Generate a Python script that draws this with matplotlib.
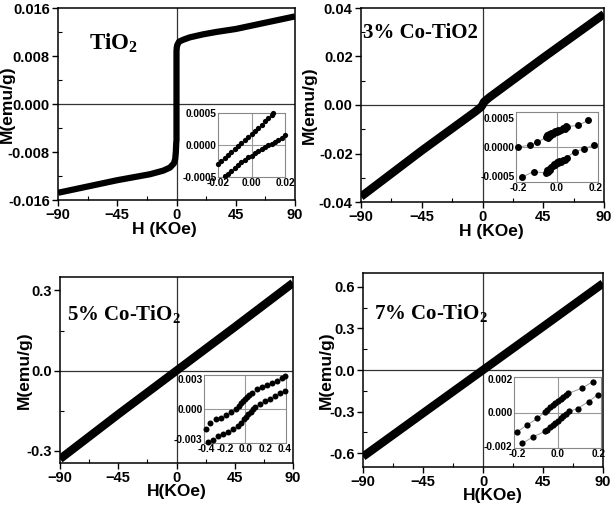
import matplotlib
matplotlib.use('Agg')
import matplotlib.pyplot as plt
from matplotlib.ticker import MultipleLocator, FormatStrFormatter

plt.rcParams['font.family'] = 'Liberation Sans'
plt.rcParams['font.weight'] = 'bold'
plt.rcParams['mathtext.fontset'] = 'custom'
plt.rcParams['mathtext.rm'] = 'Liberation Serif:bold'

# ---- main loops (H in KOe, M in emu/g) ----
h_tio2 = [-90, -75, -60, -45, -30, -20, -10, -5, -2, -1, -0.5, -0.2, 0, 0,
          0.2, 0.5, 2, 5, 10, 20, 30, 45, 60, 75, 90]
m_tio2 = [-0.0148, -0.0141, -0.0134, -0.0127, -0.0121, -0.0117, -0.0111, -0.0106,
          -0.0099, -0.0092, -0.0080, -0.0065, -0.0060, 0.0088,
          0.0094, 0.0098, 0.0104, 0.0107, 0.0111, 0.0116, 0.0120, 0.0125, 0.0132,
          0.0139, 0.0146]

h_co3 = [-90, -45, -5, -1, 0, 1, 5, 45, 90]
m_co3 = [-0.0378, -0.0188, -0.0026, -0.0008, 0.0, 0.0012, 0.0031, 0.0195, 0.0375]

h_co5 = [-90, -45, 0, 45, 90]
m_co5 = [-0.330, -0.163, 0.0, 0.163, 0.328]

h_co7 = [-90, -45, 0, 45, 90]
m_co7 = [-0.625, -0.312, 0.0, 0.312, 0.625]

# ---- insets (low field) ----
i1_up_h = [-0.020, -0.018, -0.016, -0.014, -0.012, -0.010, -0.008, -0.006, -0.004,
           -0.002, 0.000, 0.002, 0.004, 0.006, 0.008, 0.010, 0.012, 0.013]
i1_up_m = [-0.00029, -0.00025, -0.00020, -0.00016, -0.00011, -0.00006, -0.00002, 0.00003,
           0.00008, 0.00012, 0.00017, 0.00022, 0.00027, 0.00032, 0.00037, 0.00042, 0.00047, 0.00050]
i1_lo_h = [-0.016, -0.014, -0.012, -0.010, -0.008, -0.006, -0.004, -0.002, 0.000, 0.002,
           0.004, 0.006, 0.008, 0.010, 0.012, 0.014, 0.016, 0.018, 0.020]
i1_lo_m = [-0.00049, -0.00045, -0.00041, -0.00036, -0.00032, -0.00027, -0.00023, -0.00019,
           -0.00017, -0.00013, -0.00009, -0.00006, -0.00003, 0.00000, 0.00002, 0.00005,
           0.00008, 0.00011, 0.00015]

i2_up_h = [-0.20, -0.14, -0.10, -0.055, -0.05, -0.045, -0.04, -0.035, -0.03, -0.02, -0.015,
           -0.01, 0.0, 0.005, 0.01, 0.02, 0.03, 0.04, 0.045, 0.05, 0.11, 0.16]
i2_up_m = [0.0000, 0.00003, 0.00008, 0.00017, 0.00020, 0.00016, 0.00022, 0.00019, 0.00024,
           0.00022, 0.00025, 0.00027, 0.00025, 0.00029, 0.00027, 0.00030, 0.00033, 0.00031,
           0.00036, 0.00035, 0.00037, 0.00046]
i2_lo_h = [-0.18, -0.12, -0.055, -0.05, -0.045, -0.04, -0.035, -0.03, -0.02, -0.015, -0.01,
           0.0, 0.005, 0.01, 0.02, 0.03, 0.04, 0.05, 0.09, 0.14, 0.19]
i2_lo_m = [-0.00052, -0.00042, -0.00045, -0.00040, -0.00043, -0.00037, -0.00039, -0.00034,
           -0.00033, -0.00029, -0.00030, -0.00026, -0.00028, -0.00024, -0.00025, -0.00022,
           -0.00023, -0.00018, -0.00008, -0.00003, 0.00004]

i3_up_h = [-0.400, -0.356, -0.297, -0.246, -0.195, -0.144, -0.099, -0.068, -0.048, -0.027,
           -0.007, 0.017, 0.038, 0.062, 0.113, 0.164, 0.215, 0.267, 0.318, 0.369, 0.400]
i3_up_m = [-0.00204, -0.00137, -0.00097, -0.00087, -0.00060, -0.00034, -0.00003, 0.00030,
           0.00057, 0.00080, 0.00100, 0.00124, 0.00144, 0.00164, 0.00198, 0.00218, 0.00241,
           0.00265, 0.00285, 0.00308, 0.00330]
i3_lo_h = [-0.383, -0.332, -0.280, -0.229, -0.178, -0.126, -0.075, -0.041, -0.017, 0.003,
           0.027, 0.051, 0.072, 0.096, 0.147, 0.198, 0.250, 0.300, 0.352, 0.397]
i3_lo_m = [-0.00328, -0.00305, -0.00271, -0.00250, -0.00228, -0.00204, -0.00170, -0.00137,
           -0.00104, -0.00077, -0.00054, -0.00027, 0.00000, 0.00023, 0.00050, 0.00084,
           0.00100, 0.00130, 0.00158, 0.00184]

i4_up_h = [-0.200, -0.150, -0.100, -0.063, -0.051, -0.038, -0.025, -0.012, 0.002, 0.015,
           0.028, 0.041, 0.053, 0.119, 0.174]
i4_up_m = [-0.00115, -0.00073, -0.00035, 0.00004, 0.00017, 0.00031, 0.00044, 0.00058,
           0.00069, 0.00081, 0.00092, 0.00104, 0.00113, 0.00144, 0.00183]
i4_lo_h = [-0.175, -0.121, -0.063, -0.051, -0.038, -0.025, -0.012, 0.002, 0.015, 0.028,
           0.041, 0.055, 0.098, 0.152, 0.198]
i4_lo_m = [-0.00183, -0.00144, -0.00112, -0.00102, -0.00088, -0.00075, -0.00062, -0.00048,
           -0.00035, -0.00021, -0.00008, 0.00006, 0.00023, 0.00065, 0.00106]

W, H = 614, 505
fig = plt.figure(figsize=(W / 100, H / 100), dpi=100)


def box(l, t, r, b):
    return [l / W, 1 - b / H, (r - l) / W, (b - t) / H]


def main_panel(rect, h, m, lw, ylim, ymaj, fmt, label, lab_xy, xlabel, xl_xy, yl_x):
    ax = fig.add_axes(box(*rect))
    ax.plot(h, m, color='black', lw=lw, solid_capstyle='butt', solid_joinstyle='round', zorder=3)
    ax.axhline(0, color='#333333', lw=0.9, zorder=2)
    ax.axvline(0, color='#333333', lw=0.9, zorder=2)
    ax.set_xlim(-90, 90)
    ax.set_ylim(*ylim)
    ax.xaxis.set_major_locator(MultipleLocator(45))
    ax.xaxis.set_minor_locator(MultipleLocator(22.5))
    ax.yaxis.set_major_locator(MultipleLocator(ymaj))
    ax.yaxis.set_minor_locator(MultipleLocator(ymaj / 2))
    ax.yaxis.set_major_formatter(FormatStrFormatter(fmt))
    ax.tick_params(which='major', direction='out', length=4, width=1, labelsize=10.5, pad=2)
    ax.tick_params(which='minor', direction='in', length=3, width=0.8)
    for s in ax.spines.values():
        s.set_linewidth(1.1)
    for t in ax.get_xticklabels() + ax.get_yticklabels():
        t.set_fontweight('bold')
    ax.set_xlabel(xlabel, fontsize=12.5, fontweight='bold')
    ax.xaxis.set_label_coords(*xl_xy)
    ax.set_ylabel('M(emu/g)', fontsize=12.5, fontweight='bold')
    ax.yaxis.set_label_coords(yl_x, 0.5)
    ax.text(lab_xy[0], lab_xy[1], label, transform=ax.transAxes, fontsize=lab_xy[2],
            family='Liberation Serif', fontweight='bold', va='center', ha='left', zorder=5)
    return ax


def inset(rect, branches, ms, xlim, ylim, xt, yt, xfmt, yfmt, connect):
    ax = fig.add_axes(box(*rect), zorder=10)
    ax.set_facecolor('white')
    ax.axhline(0, color='#999999', lw=0.8, zorder=1)
    ax.axvline(0, color='#999999', lw=0.8, zorder=1)
    for h, m in branches:
        if connect:
            ax.plot(h, m, color='#999999', lw=0.7, zorder=2)
        ax.plot(h, m, 'o', color='black', ms=ms, mew=0, zorder=3, clip_on=False)
    ax.set_xlim(*xlim)
    ax.set_ylim(*ylim)
    ax.set_xticks(xt)
    ax.set_yticks(yt)
    ax.xaxis.set_major_formatter(FormatStrFormatter(xfmt))
    ax.yaxis.set_major_formatter(FormatStrFormatter(yfmt))
    ax.tick_params(length=0, labelsize=7.3, pad=1)
    for t in ax.get_xticklabels() + ax.get_yticklabels():
        t.set_fontweight('bold')
    for s in ax.spines.values():
        s.set_color('#888888')
        s.set_linewidth(0.8)
    return ax


main_panel((58, 8, 295, 200), h_tio2, m_tio2, 4.5, (-0.016, 0.016), 0.008, '%.3f',
           r'TiO$_{\mathrm{2}}$', (0.13, 0.82, 16.5), 'H (KOe)', (0.45, -0.113), -0.18)
main_panel((361, 8, 604, 202), h_co3, m_co3, 6, (-0.04, 0.04), 0.02, '%.2f',
           '3% Co-TiO2', (0.01, 0.87, 15), 'H (KOe)', (0.535, -0.113), -0.18)
main_panel((60, 277, 293, 463), h_co5, m_co5, 6, (-0.345, 0.35), 0.3, '%.1f',
           r'5% Co-TiO$_{\mathrm{2}}$', (0.03, 0.80, 15), 'H(KOe)', (0.5, -0.115), -0.12)
main_panel((363, 273, 603, 467), h_co7, m_co7, 6, (-0.7, 0.7), 0.3, '%.1f',
           r'7% Co-TiO$_{\mathrm{2}}$', (0.046, 0.79, 15), 'H(KOe)', (0.54, -0.108), -0.12)

inset((218, 113, 285, 177), [(i1_up_h, i1_up_m), (i1_lo_h, i1_lo_m)], 3.8,
      (-0.02, 0.02), (-0.0005, 0.0005), [-0.02, 0, 0.02], [-0.0005, 0, 0.0005],
      '%.2f', '%.4f', False)
inset((516, 112, 598, 182), [(i2_up_h, i2_up_m), (i2_lo_h, i2_lo_m)], 5,
      (-0.21, 0.21), (-0.0006, 0.0006), [-0.2, 0, 0.2], [-0.0005, 0, 0.0005],
      '%.1f', '%.4f', True)
inset((204, 375, 286, 443), [(i3_up_h, i3_up_m), (i3_lo_h, i3_lo_m)], 4.3,
      (-0.42, 0.41), (-0.0034, 0.0034), [-0.4, -0.2, 0, 0.2, 0.4], [-0.003, 0, 0.003],
      '%.1f', '%.3f', False)
inset((514, 377, 601, 448), [(i4_up_h, i4_up_m), (i4_lo_h, i4_lo_m)], 4.5,
      (-0.215, 0.213), (-0.0021, 0.0021), [-0.2, 0, 0.2], [-0.002, 0, 0.002],
      '%.1f', '%.3f', True)

fig.savefig('out.png', dpi=100)
